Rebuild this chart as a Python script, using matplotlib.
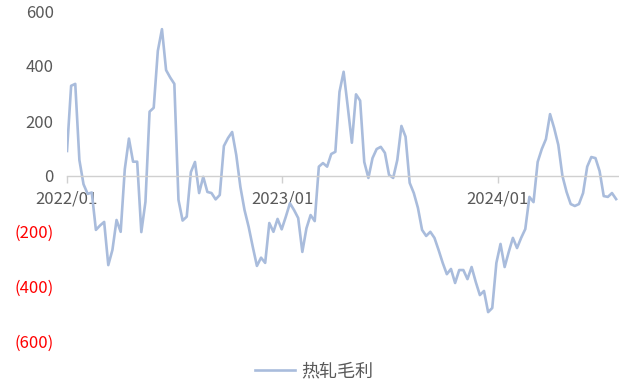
import pandas as pd
import matplotlib
matplotlib.use("Agg")
import matplotlib.pyplot as plt
import matplotlib.dates as mdates
from matplotlib.ticker import FuncFormatter

plt.rcParams['font.family'] = ['Noto Sans CJK SC', 'DejaVu Sans']

# weekly hot-rolled margin
START = "2022-01-01"
margin = [
    91, 328, 335, 58, -30, -65, -60, -196, -180, -167,
    -324, -269, -160, -203, 25, 136, 52, 52, -204, -94,
    234, 248, 455, 534, 385, 358, 335, -87, -162, -148,
    14, 51, -62, -3, -58, -62, -85, -69, 109, 138,
    160, 76, -40, -124, -185, -258, -327, -297, -316, -171,
    -203, -156, -194, -148, -99, -124, -153, -276, -190, -142,
    -164, 34, 47, 34, 80, 88, 306, 379, 252, 121,
    297, 274, 51, -7, 65, 98, 106, 84, 4, -7,
    58, 182, 143, -25, -62, -116, -196, -218, -203, -225,
    -269, -316, -357, -338, -389, -342, -342, -375, -331, -385,
    -433, -418, -495, -480, -316, -247, -331, -276, -225, -262,
    -225, -193, -76, -95, 51, 98, 134, 225, 174, 113,
    0, -58, -102, -109, -102, -62, 34, 69, 65, 18,
    -73, -76, -62, -84,
]
series_name = "热轧毛利"
yticks = [600, 400, 200, 0, -200, -400, -600]

dates = pd.date_range(START, periods=len(margin), freq="7D")

fig = plt.figure(figsize=(6.19, 3.8), dpi=100)
ax = fig.add_axes([67 / 619, 1 - 341 / 380, 552 / 619, 330 / 380])

ax.plot(dates, margin, color="#a9bcdc", lw=1.9, label=series_name)

ax.set_ylim(-600, 600)
ax.set_xlim(dates[0], dates[0] + pd.Timedelta(days=7 * 133.7))

for s in ["top", "right", "left"]:
    ax.spines[s].set_visible(False)
ax.spines["bottom"].set_position(("data", 0))
ax.spines["bottom"].set_color("#d0d0d0")
ax.spines["bottom"].set_linewidth(1.0)

ax.xaxis.set_major_locator(mdates.YearLocator())
ax.xaxis.set_major_formatter(mdates.DateFormatter("%Y/%m"))
ax.tick_params(axis="x", colors="#d0d0d0", length=5, width=1, pad=5.5,
               labelcolor="#595959", labelsize=12)

ax.set_yticks(yticks)
ax.yaxis.set_major_formatter(FuncFormatter(
    lambda v, p: "0" if v == 0 else (f"{int(v)}" if v > 0 else f"({int(-v)})")))
ax.tick_params(axis="y", length=0, pad=9.5, labelsize=12)
for lab, v in zip(ax.get_yticklabels(), yticks):
    lab.set_color("#ff0000" if v < 0 else "#595959")

fig.legend(loc="center", bbox_to_anchor=(314.5 / 619, 1 - 371 / 380),
           frameon=False, fontsize=13, handlelength=2.2, handletextpad=0.35,
           labelcolor="#595959")

plt.savefig("out.png", dpi=100)
